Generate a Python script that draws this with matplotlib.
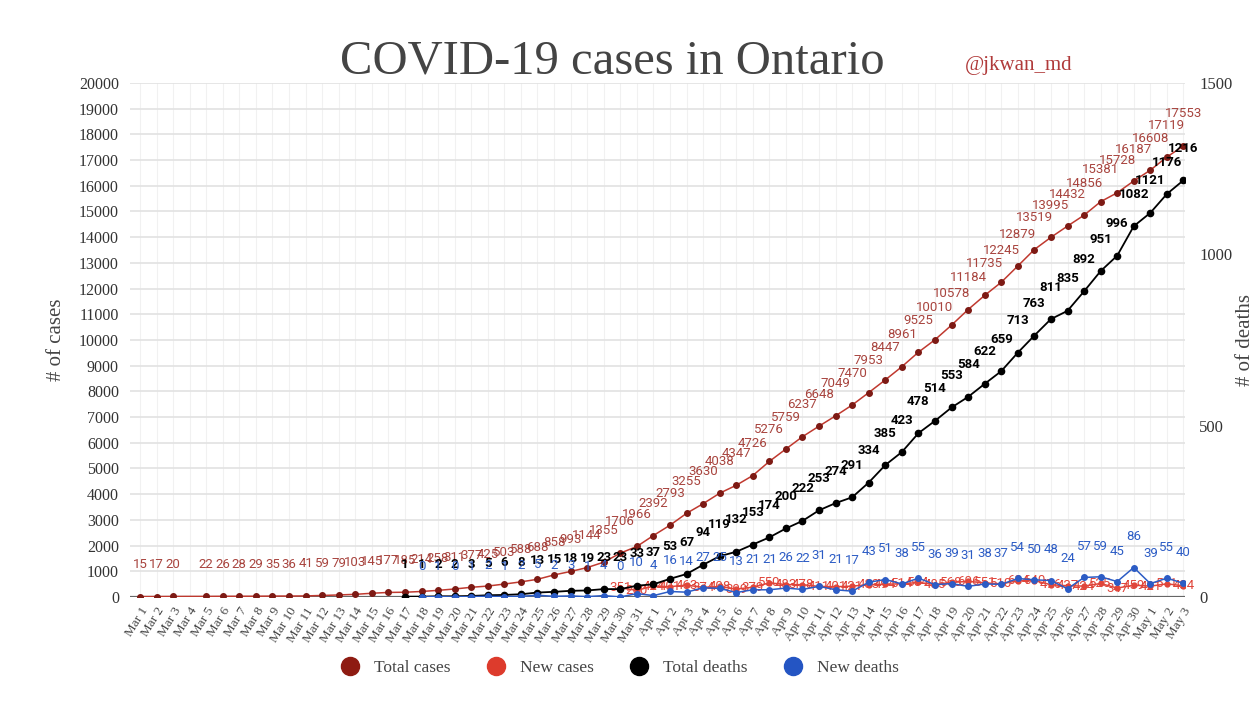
"""
COVID-19 cases in Ontario - cumulative and daily cases / deaths
"""

import numpy as np
import matplotlib
matplotlib.use('Agg')
import matplotlib.pyplot as plt
from matplotlib.lines import Line2D

SERIF = 'Liberation Serif'
SANS = 'Roboto'

# Data (Mar 1 - May 3, 2020); None = no value that day
day_labels = ([f'Mar {d}' for d in range(1, 32)] +
              [f'Apr {d}' for d in range(1, 31)] +
              [f'May {d}' for d in range(1, 4)])

total_cases = [15, 17, 20, None, 22, 26, 28, 29, 35, 36,
               41, 59, 79, 103, 145, 177, 185, 214, 258, 311,
               377, 425, 503, 588, 688, 858, 993, 1144, 1355, 1706,
               1966, 2392, 2793, 3255, 3630, 4038, 4347, 4726, 5276, 5759,
               6237, 6648, 7049, 7470, 7953, 8447, 8961, 9525, 10010, 10578,
               11184, 11735, 12245, 12879, 13519, 13995, 14432, 14856, 15381, 15728,
               16187, 16608, 17119, 17553]

new_cases = [None] * 29 + [351, 260, 424, 401, 463, 374, 408, 309, 379, 550,
                           483, 478, 411, 401, 421, 483, 494, 514, 564, 485,
                           568, 606, 551, 510, 634, 640, 476, 437, 424, 525,
                           347, 459, 421, 511, 434]

total_deaths = [None] * 16 + [1, 1, 2, 2, 3, 5, 6, 8, 13, 15,
                              18, 19, 23, 23, 33, 37, 53, 67, 94, 119,
                              132, 153, 174, 200, 222, 253, 274, 291, 334, 385,
                              423, 478, 514, 553, 584, 622, 659, 713, 763, 811,
                              835, 892, 951, 996, 1082, 1121, 1176, 1216]

new_deaths = [None] * 17 + [0, 1, 0, 1, 2, 1, 2, 5, 2, 3,
                            1, 4, 0, 10, 4, 16, 14, 27, 25, 13,
                            21, 21, 26, 22, 31, 21, 17, 43, 51, 38,
                            55, 36, 39, 31, 38, 37, 54, 50, 48, 24,
                            57, 59, 45, 86, 39, 55, 40]

C_TOTAL_CASES = '#c0392f'
C_TOTAL_CASES_DOT = '#7d1a14'
C_TOTAL_CASES_LBL = '#a8443e'
C_NEW_CASES = '#e0453a'
C_TOTAL_DEATHS = '#000000'
C_NEW_DEATHS = '#2c5cc5'


def to_arr(values):
    return np.array([np.nan if v is None else v for v in values], dtype=float)


def draw_series(ax, x, values, line_color, dot_color, ms, lw):
    y = to_arr(values)
    m = ~np.isnan(y)
    ax.plot(x[m], y[m], color=line_color, lw=lw, marker='o', ms=ms,
            markerfacecolor=dot_color, markeredgecolor=dot_color, zorder=3)
    return y


def label_series(ax, x, y, color, dy, weight='normal'):
    for xi, yi in zip(x, y):
        if np.isnan(yi):
            continue
        ax.annotate(f'{int(yi)}', (xi, yi), xytext=(0, dy), textcoords='offset points',
                    ha='center', va='center', fontsize=9.5, family=SANS,
                    color=color, fontweight=weight, zorder=6)


fig = plt.figure(figsize=(12.59, 7.02), dpi=100)
fig.patch.set_facecolor('white')
ax = fig.add_axes([0.1033, 0.1496, 0.8380, 0.7322])
ax2 = ax.twinx()

x = np.arange(len(day_labels))

# Grid
ax.set_ylim(0, 20000)
ax.set_yticks(np.arange(0, 20001, 1000))
ax.set_xlim(-0.6, len(day_labels) - 0.9)
for xi in x:
    ax.axvline(xi, color='#f1f1f1', lw=0.8, zorder=0)
ax.grid(axis='y', color='#e2e2e2', lw=1.2, zorder=0)
ax.set_axisbelow(True)
ax.axhline(0, color='#666666', lw=1.6, zorder=2)

ax2.set_ylim(0, 1500)
ax2.set_yticks([0, 500, 1000, 1500])

# Series
y_tc = draw_series(ax, x, total_cases, C_TOTAL_CASES, C_TOTAL_CASES_DOT, 4, 1.1)
y_nc = draw_series(ax, x, new_cases, C_NEW_CASES, C_NEW_CASES, 3.5, 1.1)
y_td = draw_series(ax2, x, total_deaths, C_TOTAL_DEATHS, C_TOTAL_DEATHS, 4.5, 1.3)
y_nd = draw_series(ax2, x, new_deaths, C_NEW_DEATHS, C_NEW_DEATHS, 4, 1.1)

# Data labels
label_series(ax, x, y_tc, C_TOTAL_CASES_LBL, 23)
label_series(ax, x, y_nc, C_NEW_CASES, 0)
label_series(ax2, x, y_td, C_TOTAL_DEATHS, 23, weight='bold')
label_series(ax2, x, y_nd, C_NEW_DEATHS, 22)

# Axes styling
for a in (ax, ax2):
    for s in a.spines.values():
        s.set_visible(False)
    a.tick_params(length=0)

ax.set_xticks(x)
ax.set_xticklabels(day_labels, rotation=58, ha='right', rotation_mode='anchor',
                   fontsize=9.5, family=SERIF, color='#444444')
ax.tick_params(axis='x', pad=6)
ax.tick_params(axis='y', pad=8)
for t in ax.get_yticklabels():
    t.set_family(SERIF)
    t.set_fontsize(11.5)
    t.set_color('#333333')
ax2.tick_params(axis='y', pad=10)
for t in ax2.get_yticklabels():
    t.set_family(SERIF)
    t.set_fontsize(12)
    t.set_color('#333333')

# Titles and axis labels
fig.text(0.486, 0.912, 'COVID-19 cases in Ontario', ha='center', va='center',
         fontsize=35, family=SERIF, color='#444444')
fig.text(0.809, 0.906, '@jkwan_md', ha='center', va='center',
         fontsize=15, family=SERIF, color='#b03a3a')
fig.text(0.045, 0.516, '# of cases', rotation=90, ha='center', va='center',
         fontsize=15, family=SERIF, color='#444444')
fig.text(0.989, 0.516, '# of deaths', rotation=90, ha='center', va='center',
         fontsize=15, family=SERIF, color='#444444')

# Legend
handles = [Line2D([], [], ls='none', marker='o', ms=13, color=c)
           for c in ('#8e1b12', '#dd3b2c', '#000000', '#2455c3')]
names = ['Total cases', 'New cases', 'Total deaths', 'New deaths']
leg = fig.legend(handles, names, loc='center', bbox_to_anchor=(0.489, 0.048),
                 ncol=4, frameon=False, handletextpad=0.4, columnspacing=1.6,
                 prop={'family': SERIF, 'size': 12.5})
for t in leg.get_texts():
    t.set_color('#444444')

fig.savefig('out.png', dpi=100, facecolor='white')
print("Created: out.png")
